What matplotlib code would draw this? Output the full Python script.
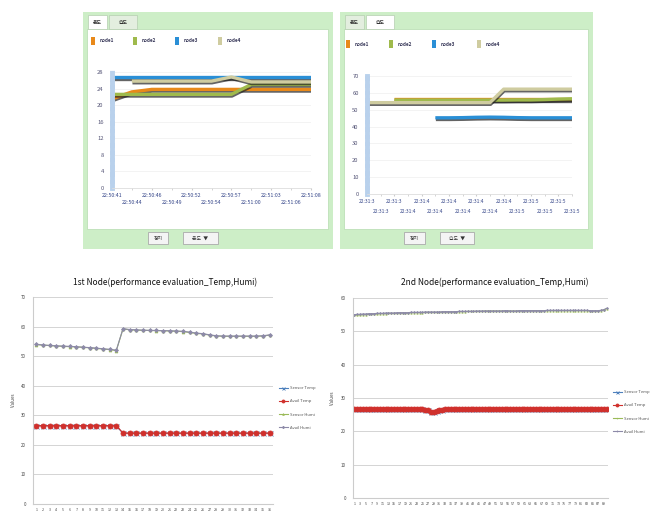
import numpy as np
import matplotlib
matplotlib.use("Agg")
import matplotlib.pyplot as plt
import matplotlib.patheffects as pe
from matplotlib.patches import Rectangle

plt.rcParams['font.family'] = ['Noto Sans CJK KR', 'DejaVu Sans']

W, H = 652, 515

# ---- top-left: temperature monitor (4 nodes) ----
p1_times = ['22:50:41', '22:50:44', '22:50:46', '22:50:49', '22:50:52', '22:50:54',
            '22:50:57', '22:51:00', '22:51:03', '22:51:06', '22:51:08']
p1_node1 = [21.5, 23.2, 23.8, 23.8, 23.8, 23.8, 23.8, 23.8, 23.8, 23.8, 23.8]
p1_node2 = [22.6, 22.6, 22.6, 22.6, 22.6, 22.6, 22.6, 25.0, 25.0, 25.0, 25.0]
p1_node3 = [26.8, 26.8, 26.8, 26.8, 26.8, 26.8, 26.8, 26.8, 26.8, 26.8, 26.8]
p1_node4 = [np.nan, 25.8, 25.8, 25.8, 25.8, 25.8, 26.8, 25.6, 25.6, 25.6, 25.6]

# ---- top-right: humidity monitor (4 nodes) ----
p2_times = ['22:31:3', '22:31:3', '22:31:3', '22:31:4', '22:31:4', '22:31:4',
            '22:31:4', '22:31:4', '22:31:4', '22:31:4', '22:31:4', '22:31:5',
            '22:31:5', '22:31:5', '22:31:5', '22:31:5']
p2_node1 = [np.nan, np.nan, 56.2, 56.2, 56.2, 56.2, 56.2, 56.2, 56.2, 56.2, 56.2,
            56.2, 56.2, 56.2, 56.2, 56.2]
p2_node2 = [np.nan, np.nan, 55.7, 55.7, 55.7, 55.7, 55.7, 55.7, 55.7, 55.7, 55.7,
            55.8, 55.8, 56.0, 56.3, 56.5]
p2_node3 = [np.nan, np.nan, np.nan, np.nan, np.nan, 45.2, 45.2, 45.3, 45.5, 45.6,
            45.5, 45.3, 45.2, 45.2, 45.2, 45.2]
p2_node4 = [54.2, 54.2, 54.2, 54.2, 54.2, 54.2, 54.2, 54.2, 54.2, 54.2, 62.2,
            62.2, 62.2, 62.2, 62.2, 62.2]

node_labels = ['node1', 'node2', 'node3', 'node4']
node_colors = ['#e8891a', '#9fba4c', '#2a8fd6', '#cfcca0']

# ---- bottom-left: 1st node evaluation ----
n1_avail_humi = [54.0, 53.8, 53.6, 53.5, 53.4, 53.3, 53.2, 53.0, 52.9, 52.7, 52.5, 52.3,
                 52.0, 59.3, 59.0, 58.9, 58.8, 58.7, 58.7, 58.6, 58.6, 58.5, 58.4, 58.1,
                 57.8, 57.6, 57.2, 56.9, 56.8, 56.8, 56.8, 56.8, 56.8, 56.8, 56.9, 57.2]
n1_sensor_humi = [53.9, 53.7, 53.6, 53.4, 53.3, 53.2, 53.1, 53.0, 52.8, 52.6, 52.4, 52.2,
                  51.9, 59.2, 58.9, 58.8, 58.7, 58.7, 58.6, 58.6, 58.5, 58.4, 58.3, 58.0,
                  57.7, 57.5, 57.1, 56.8, 56.7, 56.7, 56.7, 56.7, 56.7, 56.7, 56.8, 57.1]
n1_avail_temp = [26.5, 26.5, 26.5, 26.5, 26.5, 26.5, 26.5, 26.5, 26.5, 26.5, 26.5, 26.5,
                 26.5, 24.0, 24.0, 24.0, 24.0, 24.0, 24.0, 24.0, 24.0, 24.0, 24.0, 24.0,
                 24.0, 24.0, 24.0, 24.0, 24.0, 24.0, 24.0, 24.0, 24.0, 24.0, 24.0, 24.0]
n1_sensor_temp = [26.4, 26.4, 26.4, 26.4, 26.4, 26.4, 26.4, 26.4, 26.4, 26.4, 26.4, 26.4,
                  26.4, 23.9, 23.9, 23.9, 23.9, 23.9, 23.9, 23.9, 23.9, 23.9, 23.9, 23.9,
                  23.9, 23.9, 23.9, 23.9, 23.9, 23.9, 23.9, 23.9, 23.9, 23.9, 23.9, 23.9]

# ---- bottom-right: 2nd node evaluation ----
n2_avail_humi = [55.0, 55.1, 55.1, 55.2, 55.2, 55.3, 55.3, 55.3, 55.4, 55.4,
                 55.4, 55.5, 55.5, 55.5, 55.5, 55.6, 55.6, 55.6, 55.6, 55.6,
                 55.7, 55.7, 55.7, 55.7, 55.7, 55.8, 55.8, 55.8, 55.8, 55.8,
                 55.8, 55.9, 55.9, 55.9, 55.9, 55.9, 55.9, 56.0, 56.0, 56.0,
                 56.0, 56.0, 56.0, 56.1, 56.1, 56.1, 56.1, 56.1, 56.1, 56.1,
                 56.1, 56.1, 56.1, 56.2, 56.2, 56.1, 56.1, 56.1, 56.2, 56.2,
                 56.2, 56.2, 56.2, 56.2, 56.2, 56.2, 56.2, 56.2, 56.3, 56.3,
                 56.3, 56.3, 56.3, 56.3, 56.3, 56.3, 56.3, 56.3, 56.3, 56.3,
                 56.3, 56.3, 56.3, 56.2, 56.2, 56.2, 56.2, 56.3, 56.5, 56.9]
n2_sensor_humi = [54.8, 54.9, 54.9, 55.0, 55.0, 55.1, 55.1, 55.2, 55.2, 55.3,
                  55.3, 55.3, 55.4, 55.4, 55.4, 55.4, 55.5, 55.5, 55.5, 55.5,
                  55.6, 55.6, 55.6, 55.6, 55.6, 55.7, 55.7, 55.7, 55.7, 55.7,
                  55.7, 55.8, 55.8, 55.8, 55.8, 55.8, 55.9, 55.9, 55.9, 55.9,
                  56.0, 56.0, 56.0, 56.0, 56.0, 56.0, 56.1, 56.1, 56.1, 56.1,
                  56.1, 56.1, 56.1, 56.1, 56.1, 56.1, 56.1, 56.1, 56.1, 56.2,
                  56.2, 56.2, 56.2, 56.2, 56.2, 56.2, 56.2, 56.2, 56.2, 56.2,
                  56.2, 56.2, 56.2, 56.2, 56.2, 56.2, 56.2, 56.2, 56.2, 56.2,
                  56.2, 56.2, 56.2, 56.1, 56.1, 56.1, 56.1, 56.2, 56.4, 56.8]
n2_avail_temp = [26.6, 26.6, 26.6, 26.6, 26.6, 26.6, 26.6, 26.6, 26.6, 26.6,
                 26.6, 26.6, 26.6, 26.6, 26.6, 26.6, 26.6, 26.6, 26.6, 26.6,
                 26.6, 26.6, 26.6, 26.6, 26.6, 26.5, 26.3, 25.8, 25.7, 26.1,
                 26.4, 26.5, 26.6, 26.6, 26.6, 26.6, 26.6, 26.6, 26.6, 26.6,
                 26.6, 26.6, 26.6, 26.6, 26.6, 26.6, 26.6, 26.6, 26.6, 26.6,
                 26.6, 26.6, 26.6, 26.6, 26.6, 26.6, 26.6, 26.6, 26.6, 26.6,
                 26.6, 26.6, 26.6, 26.6, 26.6, 26.6, 26.6, 26.6, 26.6, 26.6,
                 26.6, 26.6, 26.6, 26.6, 26.6, 26.6, 26.6, 26.6, 26.6, 26.6,
                 26.6, 26.6, 26.6, 26.6, 26.6, 26.6, 26.6, 26.6, 26.6, 26.6]
n2_sensor_temp = list(n2_avail_temp)

eval_labels = ['Sensor Temp', 'Avail Temp', 'Sensor Humi', 'Avail Humi']
eval_colors = ['#4f81bd', '#d0302c', '#9bbb59', '#8d8aa8']

fig = plt.figure(figsize=(W / 100, H / 100), dpi=100)


def px_box(x0, y0, x1, y1):
    return [x0 / W, 1 - y1 / H, (x1 - x0) / W, (y1 - y0) / H]


def rect(x0, y0, x1, y1, z=-5, **kw):
    b = px_box(x0, y0, x1, y1)
    fig.patches.append(Rectangle((b[0], b[1]), b[2], b[3], transform=fig.transFigure,
                                 zorder=z, **kw))


def ftext(x, y, s, **kw):
    fig.text(x / W, 1 - y / H, s, **kw)


def monitor_panel(fx0, fx1, tab_sel, axbox, times, series, ymax, ystep, leg_x, leg_y, btn,
                  row_gap, xfs):
    # green frame + white body
    rect(fx0, 12, fx1, 249, z=-6, facecolor='#cdeec7', edgecolor='none')
    rect(fx0 + 4, 29, fx1 - 5, 229, facecolor='white', edgecolor='#b5dcae', lw=0.5)
    # tabs
    tabs = [('온도', fx0 + 5, fx0 + 24), ('습도', fx0 + 26, fx0 + 54)]
    for i, (t, a, b) in enumerate(tabs):
        sel = (i == tab_sel)
        rect(a, 15, b, 29, facecolor='white' if sel else '#e3eedf',
             edgecolor='#b5cdb0', lw=0.5)
        ftext((a + b) / 2, 22, t, fontsize=3.5, ha='center', va='center', color='#333333',
              fontweight='bold')
    # legend
    for i in range(4):
        x = leg_x[i]
        rect(x, leg_y - 4, x + 4, leg_y + 4, z=1, facecolor=node_colors[i], edgecolor='none')
        ftext(x + 9, leg_y, node_labels[i], fontsize=3.3, va='center', color='#333355',
              fontweight='bold')
    # buttons
    for (t, a, b) in btn:
        rect(a, 232, b, 244, facecolor='#f4f4f4', edgecolor='#aaaaaa', lw=0.6)
        ftext((a + b) / 2, 238, t, fontsize=3.5, ha='center', va='center', color='#333333')

    ax = fig.add_axes(px_box(*axbox))
    ax.patch.set_alpha(0)
    x = np.arange(len(times))
    for i, s in enumerate(series):
        ax.plot(x, s, color=node_colors[i], lw=2.4, solid_capstyle='butt',
                path_effects=[pe.SimpleLineShadow(offset=(0.4, -1.2), shadow_color='#222222',
                                                  alpha=0.7), pe.Normal()])
    ax.set_xlim(0, len(times) - 1)
    ax.set_ylim(0, ymax)
    ax.set_yticks(np.arange(0, ymax + 1, ystep))
    ax.set_xticks(x[::2], times[::2])
    ax.set_xticks(x[1::2], times[1::2], minor=True)
    for lab in ax.get_xticklabels(which='both'):
        lab.set_fontsize(xfs)
        lab.set_color('#334488')
    ax.tick_params(axis='y', labelsize=4.2, colors='#555577', length=0, pad=6)
    ax.tick_params(axis='x', which='major', length=1.5, color='#cccccc', pad=2)
    ax.tick_params(axis='x', which='minor', length=1.5, color='#cccccc', pad=2 + row_gap)
    ax.grid(axis='y', color='#eeeeee', lw=0.5)
    ax.set_axisbelow(True)
    for sp in ['top', 'right']:
        ax.spines[sp].set_visible(False)
    ax.spines['bottom'].set_color('#dddddd')
    ax.spines['bottom'].set_linewidth(0.6)
    ax.spines['left'].set_color('#b9d1ec')
    ax.spines['left'].set_linewidth(3.5)
    ax.spines['left'].set_linestyle((0, (1.2, 0.3)))
    return ax


monitor_panel(83, 333, 0, (112, 72, 311, 188), p1_times,
              [p1_node1, p1_node2, p1_node3, p1_node4], 28, 4,
              [91, 133, 175, 218], 41,
              [('정지', 148, 168), ('온도  ▼', 183, 218)], 5.5, 3.8)
monitor_panel(340, 593, 1, (367, 76, 572, 194), p2_times,
              [p2_node1, p2_node2, p2_node3, p2_node4], 70, 10,
              [346, 389, 432, 477], 44,
              [('정지', 404, 425), ('습도  ▼', 440, 474)], 7, 3.5)


def eval_panel(axbox, title, tx, ty, series, ymax, nlab_step, leg_anchor, ms_temp, ms_humi):
    ftext(tx, ty, title, fontsize=6.0, ha='center', va='center', color='#111111')
    ax = fig.add_axes(px_box(*axbox))
    n = len(series[0])
    x = np.arange(1, n + 1)
    markers = ['x', 'o', '^', 'D']
    sizes = [ms_temp, ms_temp, ms_humi, ms_humi]
    for i, s in enumerate(series):
        ax.plot(x, s, color=eval_colors[i], lw=0.8, marker=markers[i], ms=sizes[i],
                mew=0.6, label=eval_labels[i])
    ax.set_xlim(0.5, n + 0.5)
    ax.set_ylim(0, ymax)
    ax.set_yticks(np.arange(0, ymax + 1, 10))
    ax.set_xticks(x[::nlab_step])
    ax.set_xticklabels([str(v) for v in x[::nlab_step]], fontsize=2.6, color='#444444')
    ax.tick_params(axis='y', labelsize=3.2, colors='#444444', length=0, pad=5)
    ax.tick_params(axis='x', length=0, pad=3)
    ax.grid(axis='y', color='#d4d4d4', lw=0.7)
    ax.set_axisbelow(True)
    for sp in ['top', 'right']:
        ax.spines[sp].set_visible(False)
    ax.spines['left'].set_color('#cccccc')
    ax.spines['bottom'].set_color('#cccccc')
    ax.set_ylabel('Values', fontsize=3.2, color='#444444', labelpad=4)
    leg = ax.legend(loc='center left', bbox_to_anchor=leg_anchor, bbox_transform=fig.transFigure,
                    fontsize=3.0, frameon=False, handlelength=2.2, labelspacing=2.2,
                    markerscale=0.6, handletextpad=0.5)
    for t in leg.get_texts():
        t.set_color('#555555')
    return ax


eval_panel((33, 297, 273, 504), '1st Node(performance evaluation_Temp,Humi)', 165, 282,
           [n1_sensor_temp, n1_avail_temp, n1_sensor_humi, n1_avail_humi], 70, 1,
           (275 / W, 1 - 408 / H), 3.6, 2.0)
eval_panel((353, 298, 608, 498), '2nd Node(performance evaluation_Temp,Humi)', 495, 282,
           [n2_sensor_temp, n2_avail_temp, n2_sensor_humi, n2_avail_humi], 60, 2,
           (609 / W, 1 - 412 / H), 3.6, 1.0)

fig.savefig('out.png', dpi=100)
